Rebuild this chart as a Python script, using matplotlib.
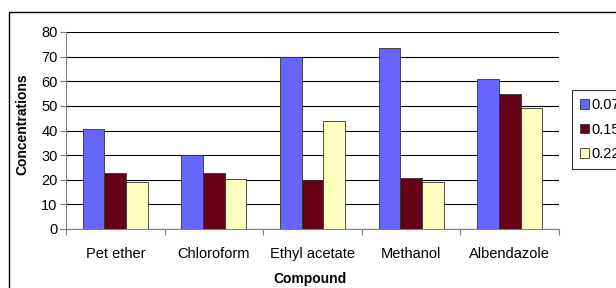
import matplotlib.pyplot as plt
import numpy as np
from matplotlib.patches import Rectangle

plt.rcParams['font.family'] = ['Liberation Sans', 'DejaVu Sans']

compounds = ['Pet ether', 'Chloroform', 'Ethyl acetate', 'Methanol', 'Albendazole']
series_labels = ['0.075', '0.15', '0.225']
s1 = [40.5, 30.2, 70.0, 73.6, 60.9]
s2 = [22.7, 22.7, 20.0, 20.6, 54.8]
s3 = [19.2, 20.2, 43.9, 19.2, 49.0]
colors = ['#6666FF', '#660016', '#FFFFC0']

fig = plt.figure(figsize=(6.16, 2.88), dpi=100)
# outer chart border (cropped on right and bottom)
fig.patches.append(Rectangle((9 / 616, -0.1), 1.2, 1 - 12 / 288 + 0.1,
                             transform=fig.transFigure, fill=False,
                             edgecolor='black', linewidth=1.0))

ax = fig.add_axes([66 / 616, 1 - 229 / 288, (559 - 66) / 616, (229 - 32) / 288])
x = np.arange(len(compounds))
w = 0.22
for i, (vals, c, lab) in enumerate(zip([s1, s2, s3], colors, series_labels)):
    ax.bar(x + (i - 1) * w, vals, w, color=c, edgecolor='#333333',
           linewidth=0.6, label=lab, zorder=3)

ax.set_xlim(-0.5, len(compounds) - 0.5)
ax.set_ylim(0, 80)
ax.set_yticks(range(0, 81, 10))
ax.yaxis.grid(True, color='black', linewidth=0.8, zorder=0)
ax.set_axisbelow(True)
ax.set_xticks(np.arange(-0.5, len(compounds), 1.0))
ax.set_xticklabels([])
ax.set_xticks(x, minor=True)
ax.set_xticklabels(compounds, minor=True)
ax.tick_params(axis='x', which='minor', length=0, pad=13, labelsize=10.5)
ax.tick_params(axis='x', which='major', length=4, color='#808080')
ax.tick_params(axis='y', length=4, color='#808080', labelsize=10.5, pad=2)
for s in ['top', 'right']:
    ax.spines[s].set_visible(False)
for s in ['left', 'bottom']:
    ax.spines[s].set_color('#808080')

fig.text(22 / 616, 1 - 124 / 288, 'Concentrations', fontsize=10, fontweight='bold',
         rotation=90, ha='center', va='center')
fig.text(310 / 616, 1 - 279 / 288, 'Compound', fontsize=10, fontweight='bold',
         ha='center', va='center')

leg = ax.legend(loc='upper left', bbox_to_anchor=(572 / 616, 1 - 90 / 288),
                bbox_transform=fig.transFigure, fontsize=10.5, frameon=True,
                fancybox=False, edgecolor='black', handlelength=0.6,
                handleheight=0.6, handletextpad=0.2, borderpad=0.55,
                labelspacing=0.72, borderaxespad=0)
leg.get_frame().set_linewidth(0.8)

fig.savefig('out.png', dpi=100)
